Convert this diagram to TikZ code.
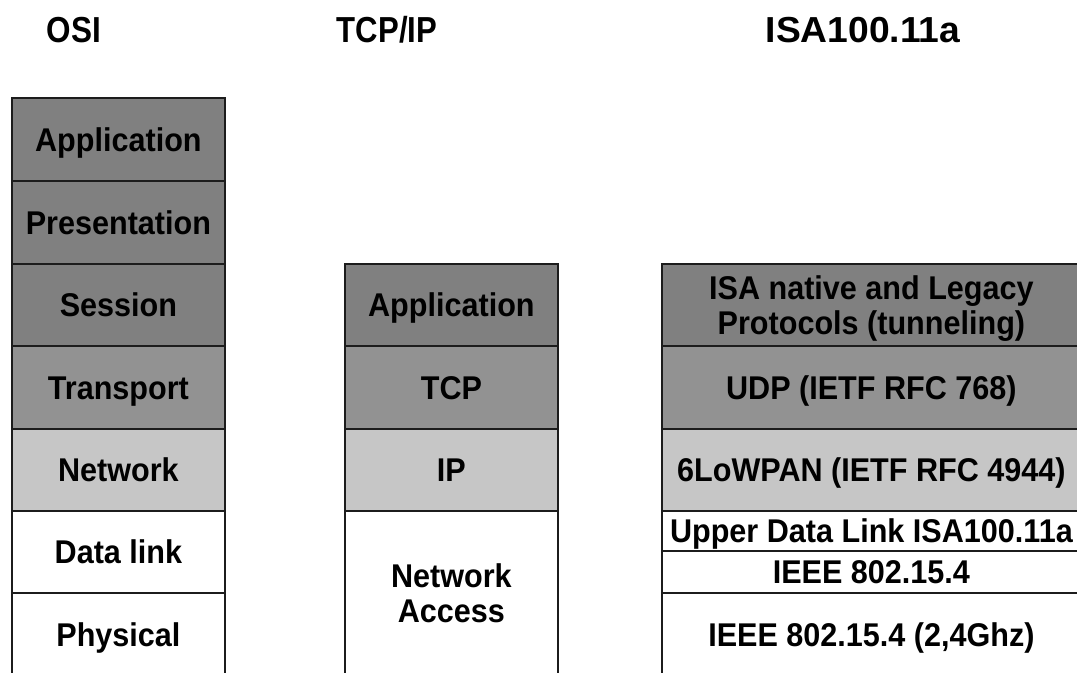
\documentclass[tikz,border=0pt]{standalone}
\usepackage{fontspec}
\setmainfont{Liberation Sans}
\newfontfamily\layfont[FakeStretch=0.93]{Liberation Sans}
\usepackage{graphicx}
\definecolor{darkL}{RGB}{128,128,128}
\definecolor{midL}{RGB}{146,146,146}
\definecolor{lightL}{RGB}{198,198,198}
\definecolor{edgeC}{RGB}{28,28,28}
\begin{document}
\begin{tikzpicture}[x=1bp,y=-1bp,
  layer/.style={draw=edgeC, line width=1.8bp, anchor=north west, inner sep=0pt,
    font=\layfont\bfseries\fontsize{33}{35}\selectfont, text height=23.6bp, text depth=0pt},
  osiw/.style={minimum width=213bp},
  isaw/.style={minimum width=419bp},
  lbl2/.style={inner sep=0pt, align=center, font=\layfont\bfseries\fontsize{33}{35}\selectfont},
  hdr/.style={anchor=base, inner sep=0pt, font=\bfseries\fontsize{36.3}{40}\selectfont},
  darkrow/.style={fill=darkL},
  midrow/.style={fill=midL},
  lightrow/.style={fill=lightL},
  whiterow/.style={fill=white}]
\useasboundingbox (0,0) rectangle (1077,673);
\fill[white] (0,0) rectangle (1077,673);
\begin{scope}
\clip (0,0) rectangle (1077,673);
% headers
\node[hdr] (hosi) at (74,43) {\scalebox{0.87}[1]{OSI}};
\node[hdr] (htcp) at (387,43) {\scalebox{0.86}[1]{TCP/IP}};
\node[hdr] (hisa) at (863,43) {\scalebox{1.03}[1]{ISA100.11a}};
% OSI
\node[layer,osiw,darkrow,minimum height=83bp] (osi1) at (11,97) {Application};
\node[layer,osiw,darkrow,minimum height=83bp] (osi2) at (11,180) {Presentation};
\node[layer,osiw,darkrow,minimum height=82bp] (osi3) at (11,263) {Session};
\node[layer,osiw,midrow,minimum height=83bp] (osi4) at (11,345) {Transport};
\node[layer,osiw,lightrow,minimum height=82bp] (osi5) at (11,428) {Network};
\node[layer,osiw,whiterow,minimum height=82bp] (osi6) at (11,510) {Data link};
\node[layer,osiw,whiterow,minimum height=83bp] (osi7) at (11,592) {Physical};
% TCP/IP
\node[layer,osiw,darkrow,minimum height=82bp] (tcp1) at (344,263) {Application};
\node[layer,osiw,midrow,minimum height=83bp] (tcp2) at (344,345) {TCP};
\node[layer,osiw,lightrow,minimum height=82bp] (tcp3) at (344,428) {IP};
\node[layer,osiw,whiterow,minimum height=165bp] (tcp4) at (344,510) {};
\node[lbl2] (tcp4t) at (tcp4.center) {Network\\Access};
% ISA100.11a
\node[layer,isaw,darkrow,minimum height=82bp] (isa1) at (661,263) {};
\node[lbl2] (isa1t) at ([yshift=-3.5bp]isa1.center) {ISA native and Legacy\\Protocols (tunneling)};
\node[layer,isaw,midrow,minimum height=83bp] (isa2) at (661,345) {UDP (IETF RFC 768)};
\node[layer,isaw,lightrow,minimum height=82bp] (isa3) at (661,428) {6LoWPAN (IETF RFC 4944)};
\node[layer,isaw,whiterow,minimum height=40bp] (isa4) at (661,510) {Upper Data Link ISA100.11a};
\node[layer,isaw,whiterow,minimum height=42bp] (isa5) at (661,550) {IEEE 802.15.4};
\node[layer,isaw,whiterow,minimum height=83bp] (isa6) at (661,592) {IEEE 802.15.4 (2,4Ghz)};
\end{scope}
\end{tikzpicture}
\end{document}
